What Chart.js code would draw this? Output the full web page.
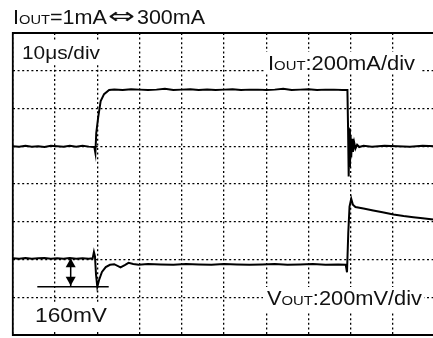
<!DOCTYPE html>
<html><head><meta charset="utf-8">
<script src="https://cdn.jsdelivr.net/npm/chart.js@4/dist/chart.umd.min.js"></script>
<style>
html,body{margin:0;padding:0;overflow:hidden;background:#fff;width:433px;height:338px}
#wrap{position:absolute;left:0;top:0;width:440px;height:338px}
</style>
</head><body>
<div id="wrap"><canvas id="c" width="440" height="338"></canvas></div>
<script>
// Time axis: 10 µs/div, 10 divisions
const timeTicks = [0,10,20,30,40,50,60,70,80,90,100];
// Vertical axis in screen divisions (0 = bottom, 8 = top)
const divTicks = [0,1,2,3,4,5,6,7,8];

// IOUT trace (200 mA/div), screen divisions
const ioutTime = [0,1.5,3,4.5,6,7.5,9,10.5,12,13.5,15,16.5,18,19.3,19.55,19.75,20.2,20.8,21.6,22.8,24,26,28,30,32,34,36,38,40,42,44,46,48,50,52,54,56,58,60,62,64,66,68,70,72,74,76,78,79.2,79.35,79.5,79.65,79.8,79.95,80.1,80.3,80.5,80.8,81.1,81.5,82,83,85,88,91,94,97,100];
const ioutDiv  = [5.00,4.99,5.01,4.99,5.00,4.98,5.01,5.00,4.99,5.01,4.99,5.01,4.99,4.98,4.82,5.35,5.76,6.20,6.38,6.49,6.50,6.49,6.51,6.50,6.49,6.50,6.52,6.49,6.50,6.51,6.49,6.50,6.49,6.50,6.51,6.49,6.50,6.50,6.49,6.50,6.52,6.49,6.50,6.51,6.49,6.50,6.50,6.49,6.49,5.50,4.20,5.47,4.45,5.30,4.70,5.20,4.85,5.10,4.94,5.04,4.98,5.01,4.99,5.01,5.00,4.99,5.01,5.00];

// VOUT trace (200 mV/div), screen divisions
const voutTime = [0,1.5,3,4.5,6,7.5,9,10.5,12,13.5,15,16.5,18,18.9,19.2,19.45,19.7,20.0,20.4,21.1,22.0,23.0,24.0,25.5,26.5,27.4,28.5,29.8,32,35,38,41,44,47,50,53,56,59,62,65,68,71,74,77,78.8,79.1,79.4,79.7,80.1,80.5,81.1,83,85.3,87.5,90.1,92.5,94.8,97,100];
const voutDiv  = [2.03,2.02,2.04,2.02,2.03,2.04,2.02,2.03,2.02,2.04,2.02,2.03,2.02,2.03,2.20,2.08,1.60,1.275,1.45,1.67,1.80,1.86,1.875,1.79,1.85,1.91,1.88,1.86,1.88,1.87,1.86,1.88,1.87,1.86,1.88,1.87,1.86,1.87,1.88,1.86,1.87,1.88,1.86,1.87,1.86,1.66,2.70,3.40,3.61,3.45,3.39,3.35,3.30,3.25,3.19,3.15,3.12,3.09,3.05];

// 160 mV dip marker (baseline level -> minimum level)
const dipMarker = {xArrow: 13.7, yTop: 2.03, yBottom: 1.275, xLineFrom: 5.8, xLineTo: 22.7};

const FONT = '"Liberation Sans", Arial, Helvetica, sans-serif';
// draw text runs, stretched horizontally to a target width
function drawFit(ctx, parts, x, y, size, target, family){
  const fam = family || FONT;
  let w = 0;
  for (const [t, f] of parts){ ctx.font = (size*f) + 'px ' + fam; w += ctx.measureText(t).width; }
  const sx = target / w;
  ctx.save(); ctx.translate(x, y); ctx.scale(sx, 1);
  ctx.fillStyle = '#111'; ctx.textBaseline = 'alphabetic';
  let cx = 0;
  for (const [t, f] of parts){
    ctx.font = (size*f) + 'px ' + fam;
    ctx.fillText(t, cx, 0);
    cx += ctx.measureText(t).width;
  }
  ctx.restore();
}

const overlay = {
  id: 'overlay',
  afterDraw(chart){
    const ctx = chart.ctx, ca = chart.chartArea;
    const xs = chart.scales.x, ys = chart.scales.y;
    ctx.save();
    // white label backgrounds
    ctx.fillStyle = '#fff';
    ctx.fillRect(15, 40, 90, 24);
    ctx.fillRect(265, 52, 155, 21);
    ctx.fillRect(263, 287, 161, 24);
    ctx.fillRect(30, 302, 84, 28);
    // frame
    ctx.strokeStyle = '#000'; ctx.lineWidth = 1.8; ctx.setLineDash([]);
    ctx.beginPath();
    ctx.moveTo(ca.right+5, ca.top); ctx.lineTo(ca.left, ca.top); ctx.lineTo(ca.left, ca.bottom); ctx.lineTo(ca.right+5, ca.bottom);
    ctx.stroke();
    // dip marker
    const ax = xs.getPixelForValue(dipMarker.xArrow);
    const yT = ys.getPixelForValue(dipMarker.yTop), yB = ys.getPixelForValue(dipMarker.yBottom);
    ctx.lineWidth = 1.5;
    ctx.beginPath();
    ctx.moveTo(xs.getPixelForValue(dipMarker.xLineFrom), yB);
    ctx.lineTo(xs.getPixelForValue(dipMarker.xLineTo), yB);
    ctx.moveTo(ax, yT); ctx.lineTo(ax, yB);
    ctx.stroke();
    ctx.fillStyle = '#000';
    ctx.beginPath(); ctx.moveTo(ax, yT); ctx.lineTo(ax-5, yT+9); ctx.lineTo(ax+5, yT+9); ctx.closePath(); ctx.fill();
    ctx.beginPath(); ctx.moveTo(ax, yB-1); ctx.lineTo(ax-5, yB-10); ctx.lineTo(ax+5, yB-10); ctx.closePath(); ctx.fill();
    // texts
    drawFit(ctx, [['I',1],['OUT',0.68],['=1mA',1]], 13, 24, 19.5, 94);
    drawFit(ctx, [['\u21D4',1]], 108, 23, 21, 27, '"DejaVu Sans", sans-serif');
    drawFit(ctx, [['300mA',1]], 137, 24, 19.5, 68);
    drawFit(ctx, [['10\u03BCs/div',1]], 22, 59, 19, 78);
    drawFit(ctx, [['I',1],['OUT',0.68],[':200mA/div',1]], 268, 70, 19.5, 147);
    drawFit(ctx, [['V',1],['OUT',0.68],[':200mV/div',1]], 267, 305, 19.5, 155);
    drawFit(ctx, [['160mV',1]], 35, 322, 19.5, 72);
    ctx.restore();
  }
};

const pts = (xs, ys) => xs.map((x, i) => ({x, y: ys[i]}));

new Chart(document.getElementById('c'), {
  type: 'line',
  data: {
    datasets: [
      {label: 'IOUT', data: pts(ioutTime, ioutDiv), borderColor: '#000', borderWidth: 2, pointRadius: 0, tension: 0, fill: false},
      {label: 'VOUT', data: pts(voutTime, voutDiv), borderColor: '#000', borderWidth: 2, pointRadius: 0, tension: 0, fill: false}
    ]
  },
  options: {
    responsive: false, animation: false, devicePixelRatio: 1,
    layout: {padding: {left: 12.8, top: 33, right: 4.7, bottom: 3}},
    plugins: {legend: {display: false}, tooltip: {enabled: false}},
    scales: {
      x: {type: 'linear', min: timeTicks[0], max: timeTicks[timeTicks.length-1],
          afterBuildTicks: s => { s.ticks = timeTicks.map(v => ({value: v})); },
          ticks: {display: false}, grid: {color: '#000', lineWidth: 1.3, drawTicks: false},
          border: {display: false, dash: [2, 2.6]}},
      y: {type: 'linear', min: divTicks[0], max: divTicks[divTicks.length-1],
          afterBuildTicks: s => { s.ticks = divTicks.map(v => ({value: v})); },
          ticks: {display: false}, grid: {color: '#000', lineWidth: 1.3, drawTicks: false},
          border: {display: false, dash: [2, 2.6]}}
    }
  },
  plugins: [overlay]
});
</script>
</body></html>
